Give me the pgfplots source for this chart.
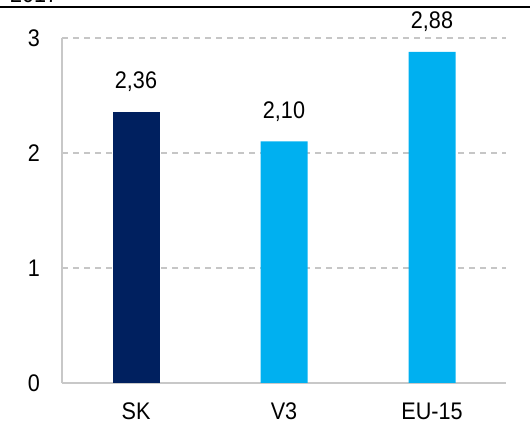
\documentclass[border=0pt]{standalone}
\usepackage{fontspec}
\setmainfont{Liberation Sans}[FakeStretch=0.9]
\usepackage{pgfplots}
\pgfplotsset{compat=1.18}
\definecolor{navy}{HTML}{00205F}
\definecolor{sky}{HTML}{00B0F0}
\definecolor{axgray}{HTML}{C8C8C8}

\begin{document}
\fontsize{24bp}{28bp}\selectfont
\begin{tikzpicture}
\useasboundingbox (0,0) rectangle (530bp,429bp);
% cut header line at top
\draw[black, line width=2.4bp] (0,422bp) -- (530bp,422bp);
\node[anchor=north west, inner sep=0pt] at (10bp,443bp) {2017};
\begin{axis}[
  at={(62bp,46bp)}, anchor=south west,
  scale only axis,
  width=444bp, height=345bp,
  xmin=-0.5, xmax=2.5,
  ymin=0, ymax=3,
  ytick={0,1,2,3},
  xtick={0,1,2},
  xticklabels={SK,V3,EU-15},
  axis x line*=bottom,
  axis y line*=left,
  axis line style={axgray, line width=1.2bp},
  x axis line style={-}, y axis line style={-},
  major tick length=0pt,
  ymajorgrids,
  grid style={gray!45, dashed, line width=1.2bp, dash pattern=on 6bp off 5bp},
  /pgf/number format/assume math mode=true,
  tick label style={font=\fontsize{24bp}{28bp}\selectfont},
  yticklabel style={xshift=-14bp},
  xticklabel style={yshift=-12bp},
  bar width=47bp,
  ybar, bar shift=0pt,
  nodes near coords,
  every node near coord/.append style={font=\fontsize{24bp}{28bp}\selectfont, anchor=south, yshift=12bp,
    /pgf/number format/.cd, fixed, fixed zerofill, precision=2, use comma, assume math mode=true},
]
\addplot[fill=navy, draw=none] coordinates {(0,2.36)};
\addplot[fill=sky, draw=none] coordinates {(1,2.10) (2,2.88)};
\end{axis}
\end{tikzpicture}
\end{document}
